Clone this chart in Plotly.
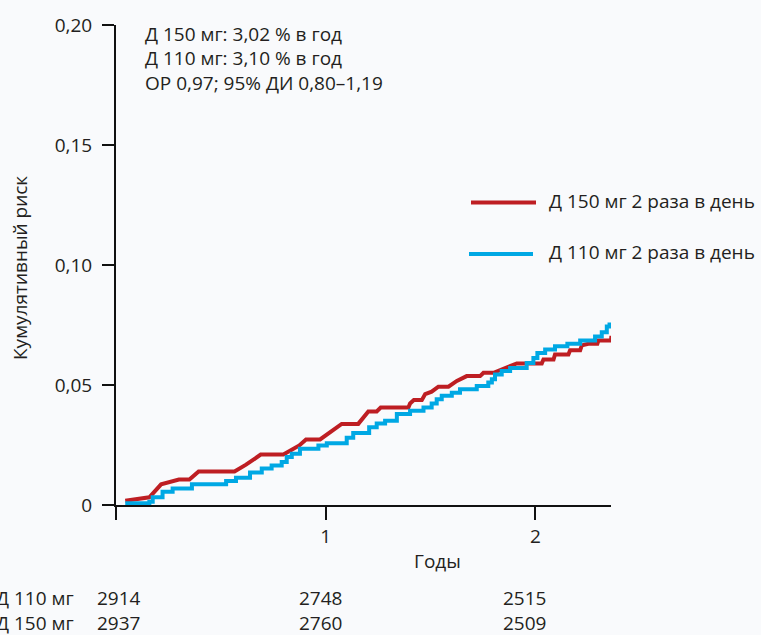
import plotly.graph_objects as go

# ---------------- data ----------------
years_150 = [0.044, 0.159, 0.215, 0.30, 0.35, 0.394, 0.565, 0.62, 0.69, 0.798, 0.874, 0.906,
             0.973, 1.052, 1.076, 1.155, 1.203, 1.243, 1.262, 1.394, 1.402, 1.42, 1.458, 1.474,
             1.505, 1.537, 1.585, 1.625, 1.672, 1.736, 1.752, 1.80, 1.863, 1.911, 2.03, 2.038,
             2.086, 2.093, 2.157, 2.165, 2.213, 2.221, 2.252, 2.295, 2.30, 2.36, 2.362]
risk_150 = [0.0018, 0.0032, 0.0086, 0.0106, 0.0106, 0.014, 0.014, 0.0168, 0.021, 0.021, 0.0248, 0.0273,
            0.0273, 0.0324, 0.0338, 0.0338, 0.039, 0.039, 0.0406, 0.0406, 0.0423, 0.0437, 0.0437, 0.0462,
            0.0472, 0.0493, 0.0493, 0.0517, 0.0537, 0.0537, 0.0551, 0.0551, 0.0571, 0.059, 0.059, 0.0606,
            0.0606, 0.0627, 0.0627, 0.0645, 0.0645, 0.0665, 0.0672, 0.0672, 0.0685, 0.0685, 0.0705]

years_110 = [0.044, 0.159, 0.175, 0.222, 0.27, 0.362, 0.525, 0.572, 0.639, 0.695, 0.742, 0.79,
             0.814, 0.838, 0.877, 0.965, 1.005, 1.10, 1.131, 1.207, 1.243, 1.283, 1.339, 1.402,
             1.466, 1.505, 1.529, 1.553, 1.601, 1.64, 1.72, 1.775, 1.792, 1.807, 1.839, 1.879,
             1.958, 1.99, 2.009, 2.046, 2.093, 2.152, 2.213, 2.284, 2.316, 2.34, 2.353, 2.36]
risk_110 = [0.0007, 0.0014, 0.0032, 0.0055, 0.0069, 0.0086, 0.010, 0.0114, 0.0135, 0.0152, 0.0165, 0.0179,
            0.020, 0.0214, 0.0234, 0.0248, 0.0257, 0.028, 0.030, 0.0324, 0.034, 0.0351, 0.0379, 0.0393,
            0.0406, 0.0423, 0.0441, 0.0455, 0.0468, 0.0482, 0.0496, 0.051, 0.0524, 0.0544, 0.0558, 0.0571,
            0.0592, 0.0613, 0.0633, 0.0648, 0.0661, 0.0672, 0.0685, 0.0702, 0.072, 0.0744, 0.0752, 0.0752]

series_names = ["Д 150 мг 2 раза в день", "Д 110 мг 2 раза в день"]
stats_lines = ["Д 150 мг: 3,02 % в год", "Д 110 мг: 3,10 % в год", "ОР 0,97; 95% ДИ 0,80–1,19"]

y_tickvals = [0, 0.05, 0.10, 0.15, 0.20]
y_ticktext = ["0", "0,05", "0,10", "0,15", "0,20"]
x_tickvals = [0, 1, 2]
x_ticktext = ["", "1", "2"]

risk_labels = ["Д 110 мг", "Д 150 мг"]
at_risk_110 = [2914, 2748, 2515]
at_risk_150 = [2937, 2760, 2509]

# ---------------- style / layout ----------------
W, H = 761, 635
L, R, T, B = 116, 150, 21, 130
PW, PH = W - L - R, H - T - B
RED = "#BE1E23"
BLUE = "#00A8E4"
BG = "#F9FAFC"
FONT = "Open Sans"
TXT = "#231F20"
FS = 19


def px(xp):
    return (xp - L) / PW


def py(yp):
    return (H - B - yp) / PH


fig = go.Figure()
fig.add_trace(go.Scatter(x=years_150, y=risk_150, mode="lines", name=series_names[0],
                         line=dict(color=RED, width=4), showlegend=False))
fig.add_trace(go.Scatter(x=years_110, y=risk_110, mode="lines", name=series_names[1],
                         line=dict(color=BLUE, width=4, shape="hv"), showlegend=False))

ann = []
for i, t in enumerate(stats_lines):
    ann.append(dict(text=t, x=px(143), y=py(30 + 24.5 * i), xref="paper", yref="paper",
                    xanchor="left", yanchor="middle", showarrow=False,
                    font=dict(size=FS, color=TXT, family=FONT)))

leg_y = [200, 252]
leg_x0 = [471, 469]
leg_x1 = [536, 533]
for i, (nm, col) in enumerate(zip(series_names, [RED, BLUE])):
    fig.add_shape(type="line", xref="paper", yref="paper",
                  x0=px(leg_x0[i]), x1=px(leg_x1[i]), y0=py(leg_y[i]), y1=py(leg_y[i]),
                  line=dict(color=col, width=4))
    ann.append(dict(text=nm, x=px(547), y=py(leg_y[i] - 2), xref="paper", yref="paper",
                    xanchor="left", yanchor="middle", showarrow=False,
                    font=dict(size=FS, color=TXT, family=FONT)))

ann.append(dict(text="Годы", x=px(437), y=py(561), xref="paper", yref="paper",
                xanchor="center", yanchor="middle", showarrow=False,
                font=dict(size=FS, color=TXT, family=FONT)))
ann.append(dict(text="Кумулятивный риск", x=px(20), y=py(266), xref="paper", yref="paper",
                xanchor="center", yanchor="middle", showarrow=False, textangle=-90,
                font=dict(size=FS, color=TXT, family=FONT)))

row_y = [599, 624]
col_x = [95, 297, 501]
for r, (lab, vals) in enumerate(zip(risk_labels, [at_risk_110, at_risk_150])):
    ann.append(dict(text=lab, x=px(76), y=py(row_y[r]), xref="paper", yref="paper",
                    xanchor="right", yanchor="middle", showarrow=False,
                    font=dict(size=FS, color=TXT, family=FONT)))
    for c, v in enumerate(vals):
        ann.append(dict(text=str(v), x=px(col_x[c]), y=py(row_y[r]), xref="paper", yref="paper",
                        xanchor="left", yanchor="middle", showarrow=False,
                        font=dict(size=FS, color=TXT, family=FONT)))

fig.update_layout(
    width=W, height=H,
    margin=dict(l=L, r=R, t=T, b=B, pad=0),
    paper_bgcolor=BG, plot_bgcolor=BG,
    annotations=ann,
    font=dict(family=FONT, size=FS, color=TXT),
    xaxis=dict(range=[0, 2.36], tickvals=x_tickvals, ticktext=x_ticktext,
               showgrid=False, zeroline=False, showline=True, linecolor="#111", linewidth=2,
               ticks="outside", ticklen=13, tickwidth=2, tickcolor="#111",
               tickfont=dict(size=FS, family=FONT, color=TXT)),
    yaxis=dict(range=[0, 0.20], tickvals=y_tickvals, ticktext=y_ticktext,
               showgrid=False, zeroline=False, showline=True, linecolor="#111", linewidth=2,
               ticks="outside", ticklen=12, tickwidth=2, tickcolor="#111",
               tickfont=dict(size=FS, family=FONT, color=TXT), ticklabelstandoff=6),
)

fig.write_html("out.html")
